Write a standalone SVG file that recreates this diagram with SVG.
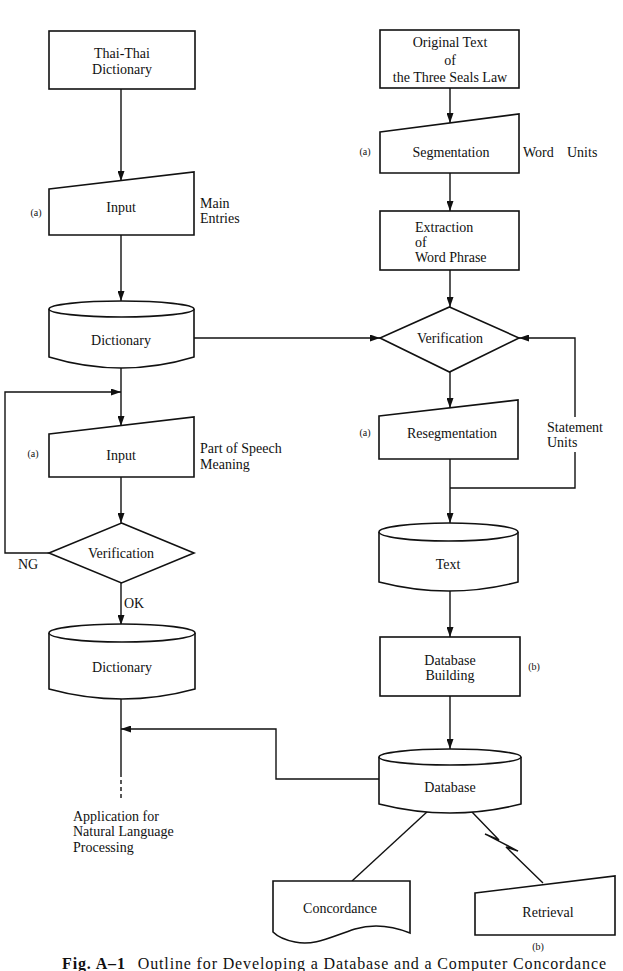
<svg xmlns="http://www.w3.org/2000/svg" width="623" height="971" viewBox="0 0 623 971">
<style>
.s{fill:#fff;stroke:#111;stroke-width:1.6}
.c{fill:none;stroke:#111;stroke-width:1.4}
.t{font-family:"Liberation Serif","DejaVu Serif",serif;font-size:14px;fill:#111;text-anchor:middle}
.l{font-family:"Liberation Serif","DejaVu Serif",serif;font-size:14px;fill:#111}
.m{font-family:"Liberation Serif","DejaVu Serif",serif;font-size:10px;fill:#111;text-anchor:middle}
</style>
<defs>
<marker id="ah" viewBox="0 0 10 7" refX="10" refY="3.5" markerWidth="10" markerHeight="7" markerUnits="userSpaceOnUse" orient="auto">
<path d="M0,0 L10,3.5 L0,7 Z" fill="#111"/>
</marker>
</defs>
<rect width="623" height="971" fill="#fff"/>

<g id="connectors">
<path class="c" d="M121,89 V181" marker-end="url(#ah)"/>
<path class="c" d="M121,235 V301" marker-end="url(#ah)"/>
<path class="c" d="M121,368 V426" marker-end="url(#ah)"/>
<path class="c" d="M49,553 H5 V392 H121" marker-end="url(#ah)"/>
<path class="c" d="M121,477 V523" marker-end="url(#ah)"/>
<path class="c" d="M121,583 V625" marker-end="url(#ah)"/>
<path class="c" d="M121,699 V773"/>
<path class="c" d="M121,773 V800" stroke-dasharray="4,3"/>
<path class="c" d="M379,779 H276 V729 H121" marker-end="url(#ah)"/>
<path class="c" d="M194,338 H380" marker-end="url(#ah)"/>
<path class="c" d="M450,88 V123" marker-end="url(#ah)"/>
<path class="c" d="M450,173 V211" marker-end="url(#ah)"/>
<path class="c" d="M450,270 V307" marker-end="url(#ah)"/>
<path class="c" d="M450,372 V408" marker-end="url(#ah)"/>
<path class="c" d="M450,459 V523" marker-end="url(#ah)"/>
<path class="c" d="M450,488 H575 V452"/>
<path class="c" d="M575,417 V338 H519" marker-end="url(#ah)"/>
<path class="c" d="M450,591 V637" marker-end="url(#ah)"/>
<path class="c" d="M450,696 V749" marker-end="url(#ah)"/>
<path class="c" d="M428,811 L352,881"/>
<path class="c" d="M472,812 L499,840 L485,834 L518,851 L506,847 L543,883"/>
</g>

<g id="thai-dict">
<rect class="s" x="49" y="31" width="146" height="58"/>
<text class="t" x="122" y="58">Thai-Thai</text>
<text class="t" x="122" y="74">Dictionary</text>
</g>

<g id="input1">
<path class="s" d="M49,189 L194,172 V235 H49 Z"/>
<text class="t" x="121" y="212">Input</text>
<text class="m" x="36" y="216">(a)</text>
<text class="l" x="200" y="208">Main</text>
<text class="l" x="200" y="223">Entries</text>
</g>

<g id="dict1">
<path class="s" d="M49,309 V357 Q121.5,379 194,357 V309"/>
<ellipse class="s" cx="121.5" cy="309" rx="72.5" ry="8"/>
<text class="t" x="121" y="345">Dictionary</text>
</g>

<g id="input2">
<path class="s" d="M49,434 L194,417 V477 H49 Z"/>
<text class="t" x="121" y="460">Input</text>
<text class="m" x="33" y="457">(a)</text>
<text class="l" x="200" y="453">Part of Speech</text>
<text class="l" x="200" y="469">Meaning</text>
</g>

<g id="verify1">
<path class="s" d="M121.5,523 L194,553 L121.5,583 L49,553 Z"/>
<text class="t" x="121" y="558">Verification</text>
<text class="l" x="18" y="569">NG</text>
<text class="l" x="124" y="608">OK</text>
</g>

<g id="dict2">
<path class="s" d="M49,633 V689 Q122,709 195,689 V633"/>
<ellipse class="s" cx="122" cy="633" rx="73" ry="9"/>
<text class="t" x="122" y="672">Dictionary</text>
</g>

<g id="application">
<text class="l" x="73" y="821">Application for</text>
<text class="l" x="73" y="836">Natural Language</text>
<text class="l" x="73" y="852">Processing</text>
</g>

<g id="original">
<rect class="s" x="380" y="30" width="139" height="58"/>
<text class="t" x="450" y="47">Original Text</text>
<text class="t" x="450" y="65">of</text>
<text class="t" x="450" y="82">the Three Seals Law</text>
</g>

<g id="segmentation">
<path class="s" d="M380,132 L519,114 V173 H380 Z"/>
<text class="t" x="451" y="157">Segmentation</text>
<text class="m" x="365" y="155">(a)</text>
<text class="l" x="523" y="157">Word</text>
<text class="l" x="567" y="157">Units</text>
</g>

<g id="extraction">
<rect class="s" x="380" y="211" width="139" height="59"/>
<text class="l" x="415" y="232">Extraction</text>
<text class="l" x="415" y="247">of</text>
<text class="l" x="415" y="262">Word Phrase</text>
</g>

<g id="verify2">
<path class="s" d="M449.5,307 L519,338 L449.5,372 L380,338 Z"/>
<text class="t" x="450" y="343">Verification</text>
</g>

<g id="resegmentation">
<path class="s" d="M379,416 L518,400 V459 H379 Z"/>
<text class="t" x="452" y="438">Resegmentation</text>
<text class="m" x="365" y="436">(a)</text>
<text class="l" x="547" y="432">Statement</text>
<text class="l" x="547" y="447">Units</text>
</g>

<g id="text-store">
<path class="s" d="M379,532 V582 Q448.5,600 518,582 V532"/>
<ellipse class="s" cx="448.5" cy="532" rx="69.5" ry="9"/>
<text class="t" x="448" y="569">Text</text>
</g>

<g id="db-building">
<rect class="s" x="380" y="637" width="140" height="59"/>
<text class="t" x="450" y="665">Database</text>
<text class="t" x="450" y="680">Building</text>
<text class="m" x="534" y="670">(b)</text>
</g>

<g id="database">
<path class="s" d="M379,757 V804 Q450,822 521,804 V757"/>
<ellipse class="s" cx="450" cy="757" rx="71" ry="8"/>
<text class="t" x="450" y="792">Database</text>
</g>

<g id="concordance">
<path class="s" d="M273,881 H410 V933 C390,925 372,924 355,929 C330,937 315,946 295,942 C285,940 278,937 273,932 Z"/>
<text class="t" x="340" y="913">Concordance</text>
</g>

<g id="retrieval">
<path class="s" d="M475,893 L615,876 V935 H475 Z"/>
<text class="t" x="548" y="917">Retrieval</text>
<text class="m" x="538" y="950">(b)</text>
</g>

<g id="caption">
<text class="l" x="62" y="969" style="font-size:16px" textLength="544" lengthAdjust="spacing"><tspan font-weight="bold">Fig. A–1</tspan><tspan dx="12">Outline for Developing a Database and a Computer Concordance</tspan></text>
</g>
</svg>
